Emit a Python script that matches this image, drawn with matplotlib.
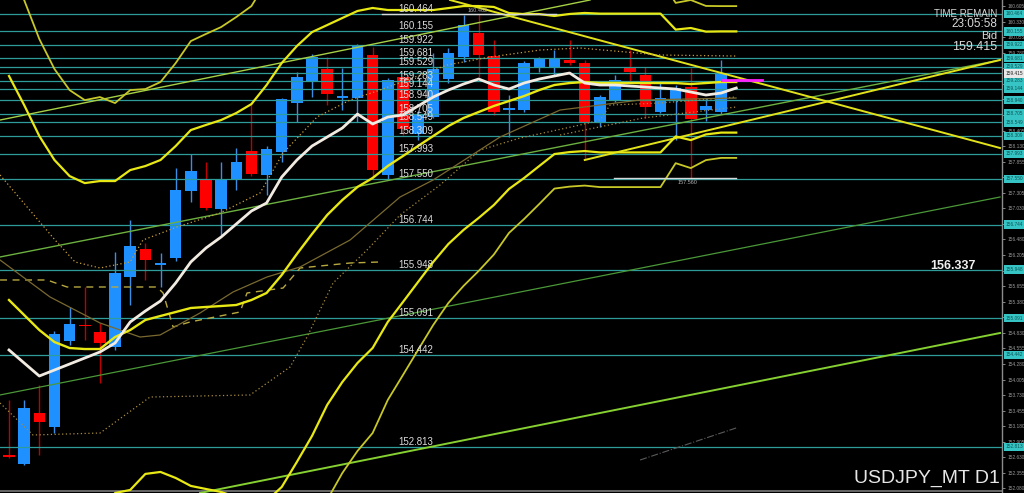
import numpy as np
import matplotlib
matplotlib.use("Agg")
import matplotlib.pyplot as plt
import matplotlib.transforms as mtransforms

plt.rcParams['font.family'] = ['Liberation Sans', 'DejaVu Sans']

# ---------------- data ----------------
opens = [152.672, 152.513, 153.419, 153.166, 154.686, 154.960, 154.845, 154.580, 155.817, 156.311,
         156.029, 156.158, 157.336, 157.548, 157.018, 157.548, 158.043, 157.619, 158.025, 158.896,
         159.267, 159.492, 158.979, 158.979, 159.739, 157.619, 159.350, 158.343, 158.643, 159.315,
         159.704, 160.128, 159.721, 158.776, 158.767, 159.509, 159.527, 159.650, 159.597, 158.555,
         158.926, 159.509, 159.385, 158.732, 158.944, 159.173, 158.767, 158.732]
highs = [153.643, 153.643, 153.908, 154.862, 155.286, 155.640, 155.004, 156.258, 156.824, 156.417,
         156.241, 157.742, 157.990, 157.854, 157.854, 158.096, 158.891, 158.131, 158.979, 159.444,
         159.756, 159.704, 159.509, 159.933, 159.880, 159.333, 159.368, 158.749, 159.774, 159.863,
         160.446, 160.462, 160.004, 159.032, 159.633, 159.704, 159.827, 160.004, 159.650, 159.032,
         159.385, 159.827, 159.527, 159.244, 159.209, 159.509, 158.979, 159.650]
lows = [152.619, 152.495, 152.672, 153.060, 154.615, 154.703, 153.944, 154.527, 155.322, 155.764,
        155.640, 156.105, 157.147, 157.000, 156.559, 157.354, 157.601, 157.265, 157.854, 158.560,
        159.002, 158.855, 158.767, 158.560, 157.589, 157.550, 158.325, 158.237, 158.626, 159.244,
        159.615, 159.350, 158.679, 158.290, 158.732, 159.439, 159.385, 159.562, 157.884, 158.467,
        158.908, 159.262, 158.626, 158.714, 158.237, 157.560, 158.573, 158.696]
closes = [152.636, 153.502, 153.249, 154.809, 154.986, 154.942, 154.656, 155.893, 156.370, 156.117,
          156.046, 157.354, 157.695, 157.036, 157.548, 157.848, 157.631, 158.078, 158.961, 159.356,
          159.709, 159.050, 158.997, 159.898, 157.707, 159.297, 158.431, 158.696, 159.492, 159.774,
          160.269, 159.739, 158.732, 158.803, 159.597, 159.668, 159.686, 159.597, 158.555, 158.997,
          159.297, 159.439, 158.820, 158.979, 159.156, 158.608, 158.838, 159.415]

fast_ma = [154.527, 154.297, 154.067, 154.173, 154.279, 154.385, 154.491, 154.650, 155.022, 155.216,
           155.393, 155.711, 156.082, 156.329, 156.523, 156.753, 156.983, 157.124, 157.583, 157.884,
           158.131, 158.290, 158.449, 158.696, 158.520, 158.643, 158.679, 158.838, 158.997, 159.120,
           159.226, 159.315, 159.209, 159.138, 159.244, 159.315, 159.368, 159.421, 159.244, 159.209,
           159.209, 159.191, 159.173, 159.156, 159.138, 159.085, 159.032, 159.067, 159.156]

bb_mid = [155.410, 155.145, 154.880, 154.668, 154.562, 154.544, 154.544, 154.756, 154.880, 155.057,
          155.128, 155.198, 155.269, 155.287, 155.304, 155.322, 155.410, 155.534, 155.852, 156.223,
          156.576, 156.912, 157.177, 157.407, 157.566, 157.778, 157.954, 158.131, 158.308, 158.484,
          158.626, 158.732, 158.838, 158.926, 159.014, 159.120, 159.209, 159.244, 159.262, 159.244,
          159.244, 159.244, 159.244, 159.244, 159.244, 159.226, 159.244, 159.262, 159.262]
bb_sd = [1.979, 1.855, 1.714, 1.608, 1.519, 1.466, 1.484, 1.378, 1.413, 1.360,
         1.378, 1.466, 1.572, 1.608, 1.643, 1.696, 1.731, 1.837, 1.873, 1.837,
         1.784, 1.678, 1.608, 1.555, 1.502, 1.378, 1.290, 1.201, 1.113, 1.042,
         0.989, 0.936, 0.875, 0.777, 0.724, 0.671, 0.610, 0.610, 0.610, 0.613,
         0.613, 0.613, 0.613, 0.613, 0.472, 0.495, 0.454, 0.447, 0.447]

# dotted / dashed indicator lines: (bar position, price)
dot1_x = [-0.59, 3.04, 4.36, 6.01, 7.99, 8.84, 11.09, 13.93, 16.57, 18.09, 20.33, 22.51, 24.49,
          28.91, 31.75, 35.05, 37.69, 42.97, 47.99]
dot1_y = [157.619, 156.470, 156.082, 155.976, 156.082, 156.470, 156.700, 156.947, 157.301, 158.007,
          158.643, 158.944, 159.120, 159.562, 159.704, 159.827, 159.863, 159.739, 159.721]
dot2_x = [-0.59, 1.58, 6.01, 9.31, 15.91, 18.55, 19.67, 21.39, 23.63, 25.81, 28.45, 31.09, 33.73,
          37.69, 39.01, 39.67, 42.97, 47.99]
dot2_y = [153.590, 153.025, 153.060, 153.696, 153.732, 154.226, 154.756, 155.711, 156.294, 156.912,
          157.442, 158.060, 158.272, 158.502, 158.590, 158.855, 158.891, 158.997]
dot3_x = [36.37, 41.85, 47.99]
dot3_y = [158.325, 158.626, 158.820]
dash1_x = [-0.59, 2.51, 3.83, 9.77, 10.17, 10.83, 11.95, 15.25, 15.71, 18.09, 19.21, 22.51, 24.49]
dash1_y = [155.764, 155.764, 155.640, 155.640, 155.534, 154.933, 155.022, 155.198, 155.534, 155.622,
           155.976, 156.064, 156.082]
brown_x = [-0.59, 2.71, 6.01, 8.65, 9.97, 12.61, 14.79, 17.03, 19.21, 22.51, 25.81, 27.99, 32.41,
           36.37, 41.65, 47.99]
brown_y = [156.117, 155.463, 155.004, 154.756, 154.792, 155.181, 155.552, 155.817, 155.993, 156.470,
           157.230, 157.530, 158.290, 158.767, 158.944, 158.979]
dashdot_x = [41.65, 47.99]
dashdot_y = [152.583, 153.149]

# trend lines: (x0, p0, x1, p1)
green_lines = [(-0.594, 158.590, 38.35, 160.711, '#a6d045', 1.0),
               (-0.594, 156.170, 65.41, 159.651, '#6cb040', 1.0),
               (-0.594, 153.732, 65.41, 157.230, '#4a9838', 0.9),
               (12.61, 152.000, 65.41, 154.827, '#86d032', 1.4)]
yellow_lines = [(29.11, 160.711, 65.41, 158.096),
                (38.0, 157.884, 65.41, 159.651)]

level_prices = [160.464, 160.155, 159.922, 159.681, 159.529, 159.283, 159.144, 158.940, 158.705,
                158.549, 158.309, 157.993, 157.550, 156.744, 155.948, 155.091, 154.442, 152.813]
bid_price = 159.415
axis_ticks = [160.605, 160.330, 160.055, 159.780, 159.505, 159.230, 158.955, 158.680, 158.405,
              158.130, 157.855, 157.580, 157.305, 157.030, 156.755, 156.480, 156.205, 155.930,
              155.655, 155.380, 155.105, 154.830, 154.555, 154.280, 154.005, 153.730, 153.455,
              153.180, 152.905, 152.630, 152.355, 152.080]
high_mark = 160.462
low_mark = 157.560
magenta_price = 159.297

# ---------------- figure ----------------
W, H = 1024, 493
fig = plt.figure(figsize=(W / 100, H / 100), dpi=100, facecolor='black')
ax = fig.add_axes([0, 0, 1002 / W, 1])
ax.set_facecolor('black')
ax.set_xlim(-0.594, 65.54)
ax.set_ylim(152.000, 160.711)
for s in ['top', 'left', 'bottom']:
    ax.spines[s].set_visible(False)
ax.spines['right'].set_color('#8c8c8c')
ax.spines['right'].set_linewidth(1.0)
ax.set_xticks([])
ax.yaxis.tick_right()
ax.set_yticks(axis_ticks)
ax.set_yticklabels([f'{v:.3f}' for v in axis_ticks])
ax.tick_params(axis='y', colors='#9a9a9a', labelsize=3.4, length=2, width=0.6, pad=2)

blend = mtransforms.blended_transform_factory(ax.transAxes, ax.transData)

# bottom frame line
ax.axhline(152.03, color='#7a7a7a', lw=1.2, zorder=1)

# candles
xs = np.arange(len(opens))
o = np.array(opens); c = np.array(closes); hi = np.array(highs); lo = np.array(lows)
up = c >= o
body_col = np.where(up, '#1e90ff', '#ff0000')
wick_col = np.where(up, '#3a8ee6', '#c00000')
ax.vlines(xs, lo, hi, colors=wick_col, lw=1.0, zorder=2)
bottoms = np.minimum(o, c)
heights = np.maximum(np.abs(c - o), 0.035)
ax.bar(xs, heights, bottom=bottoms, width=0.76, color=body_col, linewidth=0, zorder=3)

# horizontal level lines
for p in level_prices + [bid_price]:
    ax.axhline(p, color='#2f9c9c', lw=0.9, zorder=4)

# trend lines
for x0, p0, x1, p1, col, lw in green_lines:
    ax.plot([x0, x1], [p0, p1], color=col, lw=lw, zorder=5)
for x0, p0, x1, p1 in yellow_lines:
    ax.plot([x0, x1], [p0, p1], color='#e2e21c', lw=1.4, zorder=5)

# thin dotted / dashed indicators
ax.plot(dot1_x, dot1_y, color='#c9a040', lw=0.9, ls=(0, (1, 2)), zorder=5)
ax.plot(dot2_x, dot2_y, color='#a88c40', lw=0.9, ls=(0, (1, 2)), zorder=5)
ax.plot(dot3_x, dot3_y, color='#a88c40', lw=0.9, ls=(0, (1, 2)), zorder=5)
ax.plot(dash1_x, dash1_y, color='#b8a840', lw=1.0, ls=(0, (5, 4)), zorder=5)
ax.plot(brown_x, brown_y, color='#7a6a30', lw=0.9, zorder=5)
ax.plot(dashdot_x, dashdot_y, color='#5a5a5a', lw=0.8, ls='-.', zorder=5)

# Bollinger bands
xb = np.arange(len(bb_mid))
mid = np.array(bb_mid); sd = np.array(bb_sd)
ax.plot(xb, mid, color='#e8e814', lw=1.7, zorder=6)
ax.plot(xb, mid + 2 * sd, color='#e8e814', lw=1.6, zorder=6)
ax.plot(xb, mid - 2 * sd, color='#e8e814', lw=1.6, zorder=6)
ax.plot(xb, mid + 3 * sd, color='#c8c828', lw=1.3, zorder=6)
ax.plot(xb, mid - 3 * sd, color='#c8c828', lw=1.3, zorder=6)

# fast MA (white)
ax.plot(np.arange(len(fast_ma)), fast_ma, color='#f2ebe2', lw=2.0, zorder=7)

# high / low markers
ax.plot([24.6, 36.1], [high_mark, high_mark], color='#d8d8d8', lw=1.0, zorder=7)
ax.text(30.9, high_mark + 0.02, f'{high_mark:.3f}', color='#b0b0b0', fontsize=4,
        ha='center', va='bottom', zorder=8)
ax.plot([39.93, 47.99], [low_mark, low_mark], color='#d8d8d8', lw=1.0, zorder=7)
ax.text(44.8, low_mark - 0.03, f'{low_mark:.3f}', color='#b0b0b0', fontsize=4,
        ha='center', va='top', zorder=8)

# magenta segment
ax.plot([47.06, 49.70], [magenta_price, magenta_price], color='#ff20ff', lw=2.0, zorder=8)

# level labels on chart
for p in level_prices:
    ax.text(398 / 1002, p, f'{p:.3f}', transform=blend, color='#dcdcdc', fontsize=7,
            ha='left', va='bottom', zorder=9)

# level boxes on the price axis
for p in level_prices:
    ax.text(1.004, p, f'{p:.3f}', transform=blend, color='#0b5555', fontsize=3.4,
            ha='left', va='center', clip_on=False, zorder=10,
            bbox=dict(boxstyle='square,pad=0.35', fc='#36c4c4', ec='none'))
ax.text(1.004, bid_price, f'{bid_price:.3f}', transform=blend, color='#202020', fontsize=3.4,
        ha='left', va='center', clip_on=False, zorder=10,
        bbox=dict(boxstyle='square,pad=0.35', fc='#e8e8e8', ec='none'))

# info texts
fig.text(997 / W, 1 - 14 / H, 'TIME REMAIN', color='#d8d8d8', fontsize=7, ha='right', va='center')
fig.text(997 / W, 1 - 24 / H, '23:05:58', color='#d8d8d8', fontsize=8.5, ha='right', va='center')
fig.text(997 / W, 1 - 36 / H, 'Bid', color='#d8d8d8', fontsize=8, ha='right', va='center')
fig.text(997 / W, 1 - 47 / H, f'{bid_price:.3f}', color='#d8d8d8', fontsize=9, ha='right', va='center')
fig.text(953 / W, 1 - 266 / H, '156.337', color='#f0f0f0', fontsize=9, fontweight='bold',
         ha='center', va='center')
fig.text(1000 / W, 1 - 478 / H, 'USDJPY_MT D1', color='#e6e6e6', fontsize=14, ha='right', va='center')

fig.savefig('out.png', dpi=100, facecolor='black')
